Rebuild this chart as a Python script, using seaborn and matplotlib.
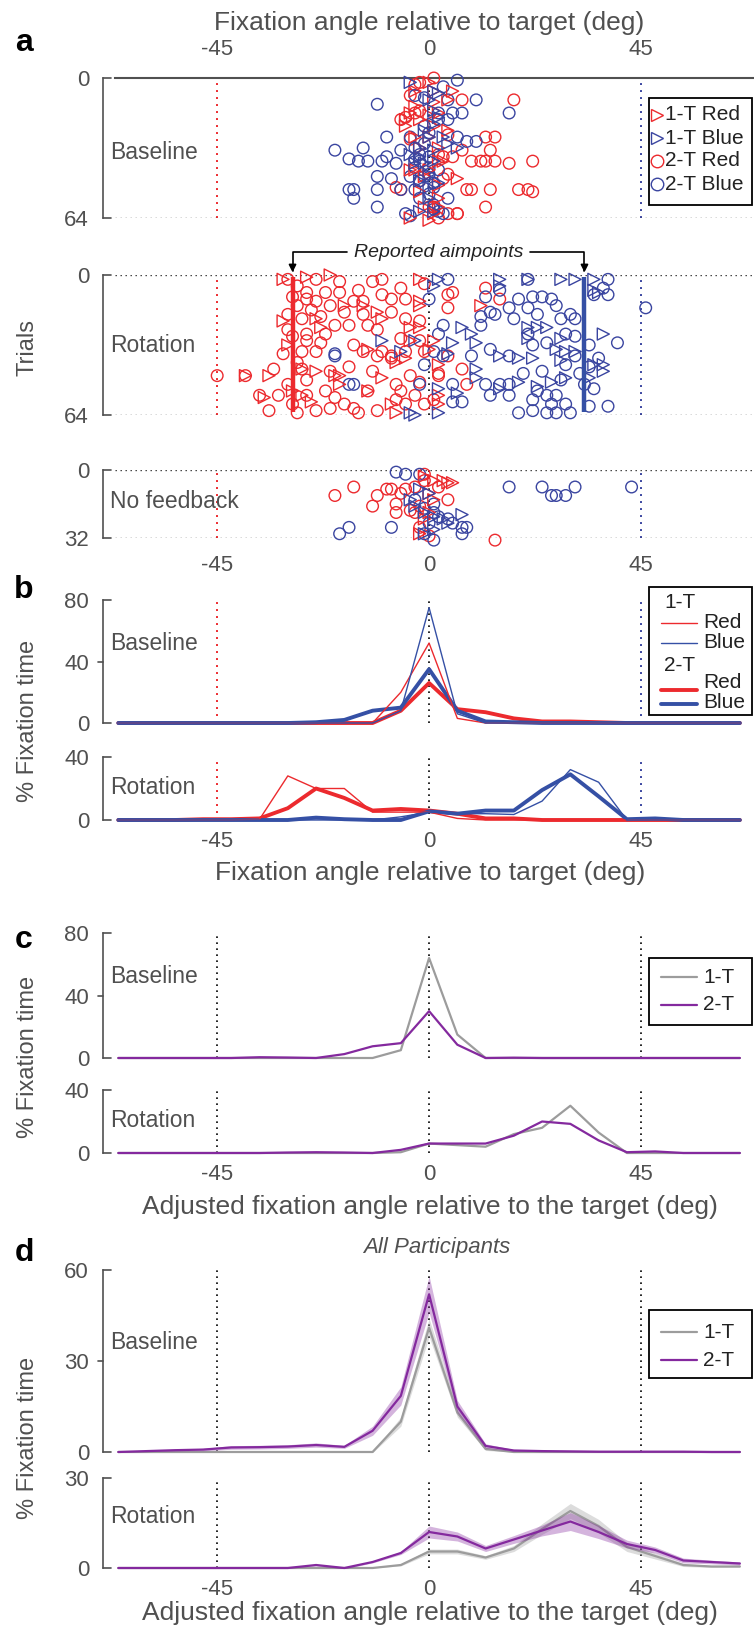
import numpy as np
import pandas as pd
import matplotlib
matplotlib.use("Agg")
import matplotlib.pyplot as plt
import matplotlib.transforms as mtransforms
from matplotlib.lines import Line2D
from matplotlib.patches import Rectangle
import seaborn as sns

# ------------------------------------------------------------------ data
bins = [-66, -60, -54, -48, -42, -36, -30, -24, -18, -12, -6, 0, 6, 12, 18, 24, 30, 36, 42, 48, 54, 60, 66]

# panel b (per colour)
b_base_1t_red = [0, 0, 0, 0, 0, 0, 0, 0, 0, 0, 20, 52, 3, 0, 0, 0, 0, 0, 0, 0, 0, 0, 0]
b_base_1t_blue = [0, 0, 0, 0, 0, 0, 0, 0, 0, 0, 8, 75, 6, 0, 0, 0, 0, 0, 0, 0, 0, 0, 0]
b_base_2t_red = [0, 0, 0, 0, 0, 0, 0, 0, 0, 0, 8, 26, 9, 7, 3, 1, 1, 0.5, 0, 0, 0, 0, 0]
b_base_2t_blue = [0, 0, 0, 0, 0, 0, 0, 0.5, 2, 8, 10, 35, 8, 1, 0.5, 0, 0, 0, 0, 0, 0, 0, 0]
b_rot_1t_red = [0, 0, 0, 0, 0, 0.5, 28, 20, 20, 5, 5, 5, 1, 0, 0, 0, 0, 0, 0, 0, 0, 0, 0]
b_rot_2t_red = [0, 0, 0, 0.5, 0.5, 1, 7.5, 20, 14, 6, 7, 6, 4, 1, 1, 0, 0, 0, 0, 0, 0, 0, 0]
b_rot_1t_blue = [0, 0, 0, 0, 0, 0, 0, 0, 0, 0, 2, 5, 4, 4, 3.5, 12, 32, 24, 0, 0, 0, 0, 0]
b_rot_2t_blue = [0, 0, 0, 0, 0, 0, 0, 1.5, 0.5, 0, 0, 5.5, 4, 6, 6, 19, 29, 15, 0.5, 1, 0, 0, 0]

# panel c (adjusted, one participant)
c_base_1t = [0, 0, 0, 0, 0, 0, 0, 0, 0, 0, 5, 64, 15, 0, 0, 0, 0, 0, 0, 0, 0, 0, 0]
c_base_2t = [0, 0, 0, 0, 0, 0.5, 0.3, 0, 2.5, 7.5, 9.5, 30, 8.5, 0, 0.2, 0, 0, 0, 0, 0, 0, 0, 0]
c_rot_1t = [0, 0, 0, 0, 0, 0, 0, 0, 0, 0, 0.5, 6, 5, 4, 12, 16, 30, 13, 0, 0, 0, 0, 0]
c_rot_2t = [0, 0, 0, 0, 0, 0, 0.3, 0.5, 0.3, 0, 2, 6, 6, 6, 11, 20, 18.5, 8, 0.5, 1, 0, 0, 0]

# panel d (all participants, mean and s.e.m.)
d_base_1t = [0, 0, 0, 0, 0, 0, 0, 0, 0, 0, 10, 41, 13, 1, 0, 0, 0, 0, 0, 0, 0, 0, 0]
d_base_1t_sem = [0, 0, 0, 0, 0, 0, 0, 0, 0, 0.2, 1.5, 3, 1.5, 0.5, 0, 0, 0, 0, 0, 0, 0, 0, 0]
d_base_2t = [0, 0.3, 0.6, 0.8, 1.5, 1.6, 1.8, 2.3, 1.7, 7, 18.5, 52, 15, 2, 0.5, 0.3, 0.2, 0.1, 0.1, 0.1, 0.1, 0, 0]
d_base_2t_sem = [0, 0.2, 0.3, 0.4, 0.6, 0.6, 0.6, 0.7, 0.5, 1.5, 3, 6, 2, 0.7, 0.3, 0.2, 0.1, 0.1, 0.1, 0.1, 0.1, 0, 0]
d_rot_1t = [0, 0, 0, 0, 0, 0, 0, 0, 0, 0, 1, 5.5, 5.5, 3.5, 6.5, 13, 19, 14, 7, 4, 1, 0.5, 0.5]
d_rot_1t_sem = [0, 0, 0, 0, 0, 0, 0, 0, 0, 0, 0.3, 0.8, 0.8, 0.6, 1, 1.8, 2.5, 2.2, 1.5, 1, 0.5, 0.3, 0.3]
d_rot_2t = [0, 0, 0, 0, 0, 0, 0, 1, 0, 2, 5, 12, 10.5, 6.5, 9.5, 12.5, 15.5, 12, 8, 6, 2.5, 2, 1.5]
d_rot_2t_sem = [0, 0, 0, 0, 0, 0, 0, 0.3, 0.3, 0.3, 0.5, 2, 1.5, 1, 1.3, 1.8, 3, 2.2, 1.3, 1, 0.8, 0.6, 0.5]

# panel a: (fixation angle, trial)
base_1t_red = [(-5, 19), (-5, 22), (-4, 16), (-3, 13), (-2, 19), (1, 11), (2, 32), (6, 46), (3, 38), (4, 24),
               (-4, 64), (0, 65), (1, 6), (-3, 6), (0, 2), (2, 49), (0, 42), (-2, 52), (2, 55), (-3, 42),
               (0, 27), (1, 22), (-2, 32), (2, 38), (1, 62), (-1, 59), (-4, 42), (4, 10), (5, 6), (2, 16),
               (-3, 27), (0, 17), (-1, 45), (2, 59)]
base_1t_blue = [(-4, 2), (1, 6), (2, 7), (1, 21), (4, 30), (6, 32), (0, 44), (0, 50), (-2, 36), (-1, 39),
                (1, 33), (-1, 24), (1, 15), (2, 18), (0, 55), (1, 61), (-2, 61), (-3, 39), (-4, 35), (0, 10),
                (0, 27), (-2, 47), (2, 48), (1, 38), (-2, 32), (3, 27)]
base_2t_red = [(1, 0), (-3, 3), (7, 10), (18, 10), (12, 27), (14, 27), (13, 33), (9, 38), (11, 38), (12, 38),
               (14, 38), (17, 39), (22, 38), (5, 36), (3, 36), (8, 51), (9, 51), (13, 51), (19, 51), (21, 51),
               (22, 52), (12, 59), (6, 62), (4, 62), (6, 62), (3, 46), (4, 44), (-6, 51), (-6, 19), (-5, 18),
               (-3, 16), (-2, 15), (-4, 28), (-4, 8), (-2, 2), (1, 59), (2, 64), (-7, 50), (7, 33), (4, 26),
               (2, 35), (0, 59), (-2, 47)]
base_2t_blue = [(-11, 12), (-9, 27), (-20, 33), (-17, 37), (-15, 38), (-14, 32), (-13, 38), (-10, 38), (-11, 45), (-16, 51),
                (-17, 51), (-16, 55), (-11, 51), (-11, 59), (-8, 46), (-6, 51), (-9, 36), (-7, 39), (-6, 33), (-4, 27),
                (-3, 32), (-3, 37), (-3, 41), (-4, 45), (-3, 51), (-5, 62), (-4, 63), (-2, 55), (-1, 45), (0, 41),
                (1, 50), (1, 58), (2, 19), (2, 16), (4, 19), (6, 1), (3, 4), (4, 10), (5, 16), (7, 16),
                (8, 29), (10, 29), (10, 10), (17, 16), (6, 27), (0, 36), (-2, 35), (3, 62), (2, 61), (4, 55),
                (2, 42), (-1, 9), (-3, 8), (-2, 38), (-1, 30), (0, 44), (1, 48), (-2, 47), (0, 53), (1, 60),
                (-1, 22), (0, 25)]

rot_1t_red = [(-31, 2), (-26, 1), (-21, 0), (-18, 14), (-24, 20), (-23, 24), (-31, 21), (-30, 32), (-27, 43), (-24, 44),
              (-19, 46), (-29, 53), (-27, 55), (-25, 58), (-35, 56), (-39, 46), (-34, 46), (-13, 53), (-13, 34), (-8, 59),
              (-7, 63), (-4, 30), (-4, 24), (-2, 2), (-2, 12), (-2, 24), (-20, 46), (-19, 50), (-10, 47), (-7, 40),
              (2, 41), (-5, 38), (-10, 20), (-14, 14), (-11, 17), (11, 14), (-2, 14), (1, 30), (2, 55), (2, 59),
              (0, 34)]
rot_1t_blue = [(15, 2), (15, 5), (21, 2), (28, 2), (31, 2), (35, 2), (35, 7), (36, 8), (21, 24), (21, 29),
               (23, 24), (25, 24), (28, 29), (27, 34), (29, 35), (28, 39), (31, 35), (37, 27), (37, 41), (35, 41),
               (37, 44), (34, 47), (29, 47), (26, 49), (23, 51), (19, 49), (19, 38), (22, 38), (15, 37), (10, 31),
               (9, 27), (7, 24), (5, 31), (4, 36), (10, 43), (10, 47), (15, 52), (6, 54), (2, 63), (2, 2),
               (1, 5), (-10, 30), (-3, 30), (-6, 35), (-4, 63), (-3, 64), (2, 52)]
rot_2t_red = [(-30, 2), (-24, 2), (-19, 3), (-12, 3), (-10, 2), (-15, 7), (-19, 8), (-22, 8), (-26, 11), (-26, 8),
              (-24, 12), (-21, 14), (-18, 17), (-16, 12), (-14, 12), (-10, 9), (-8, 11), (-6, 6), (-5, 11), (-8, 17),
              (-14, 18), (-17, 23), (-20, 23), (-22, 27), (-23, 31), (-26, 30), (-26, 27), (-30, 18), (-31, 36), (-27, 35),
              (-24, 35), (-16, 32), (-14, 35), (-11, 37), (-10, 35), (-8, 38), (-6, 29), (-5, 20), (-13, 23), (-11, 25),
              (-8, 37), (-5, 35), (-2, 30), (-2, 21), (-1, 35), (2, 46), (-2, 49), (-4, 46), (-7, 50), (-12, 44),
              (-17, 42), (-21, 44), (-26, 48), (-27, 43), (-33, 43), (-39, 46), (-45, 46), (-36, 55), (-34, 62), (-32, 55),
              (-29, 59), (-28, 63), (-26, 55), (-24, 62), (-21, 61), (-20, 56), (-18, 59), (-16, 61), (-15, 63), (-11, 62),
              (-6, 53), (-5, 59), (-7, 57), (-3, 55), (-1, 59), (1, 57), (-13, 53), (-22, 53), (12, 6), (15, 11),
              (4, 9), (5, 8), (4, 15), (4, 37), (7, 43), (8, 50), (2, 45), (-1, 4), (-28, 5), (-29, 10),
              (-28, 14), (-30, 25), (-29, 28), (-28, 40), (-30, 50), (-27, 20), (-25, 16), (-23, 19)]
rot_2t_blue = [(4, 2), (12, 10), (13, 17), (11, 19), (14, 18), (18, 20), (17, 15), (21, 2), (22, 10), (24, 10),
               (26, 11), (27, 14), (23, 18), (28, 20), (30, 18), (31, 20), (35, 9), (38, 2), (38, 9), (37, 6),
               (21, 27), (22, 32), (25, 31), (29, 27), (34, 32), (40, 31), (34, 42), (29, 41), (31, 37), (17, 37),
               (13, 34), (9, 37), (5, 50), (12, 50), (15, 50), (17, 50), (13, 55), (17, 55), (5, 58), (7, 58),
               (19, 63), (22, 62), (22, 57), (23, 53), (25, 55), (27, 55), (29, 59), (30, 63), (34, 60), (38, 60),
               (25, 63), (27, 63), (26, 59), (46, 15), (19, 11), (21, 15), (15, 7), (11, 23), (-20, 37), (-20, 36),
               (-17, 50), (-16, 50), (-2, 50), (1, 35), (2, 27), (3, 37), (3, 23), (0, 11), (-1, 41), (32, 45),
               (33, 50), (35, 52), (36, 38), (31, 28), (28, 48), (24, 44), (20, 45)]

nofb_1t_red = [(-1, 3), (1, 5), (3, 5), (4, 6), (5, 6), (0, 11), (1, 14), (-1, 23), (-2, 30), (0, 20)]
nofb_1t_blue = [(-4, 14), (-3, 17), (-1, 20), (1, 22), (3, 23), (4, 25), (7, 21), (1, 28), (-1, 30), (0, 11), (-2, 9)]
nofb_2t_red = [(-20, 12), (-16, 8), (-12, 17), (-11, 12), (-9, 9), (-8, 9), (-6, 11), (-5, 9), (-3, 8), (-1, 2),
               (-1, 5), (-7, 20), (-4, 19), (-2, 27), (0, 31), (2, 8), (4, 14), (14, 33), (-7, 16), (-3, 20),
               (-2, 17)]
nofb_2t_blue = [(-7, 1), (-5, 2), (-2, 2), (17, 8), (24, 8), (26, 12), (27, 12), (29, 12), (31, 8), (43, 8),
                (-19, 30), (-17, 27), (-8, 27), (-1, 18), (1, 20), (2, 22), (4, 23), (5, 25), (7, 27), (8, 27),
                (7, 30), (1, 33), (-1, 30), (0, 25), (1, 16), (-3, 14)]

aim_red = -29
aim_blue = 33
xticks = [-45, 0, 45]

# ------------------------------------------------------------------ style
sns.set_theme(style="white")
plt.rcParams["font.family"] = ["Liberation Sans", "DejaVu Sans"]

W, H = 754, 1636
fig = plt.figure(figsize=(W / 100, H / 100), dpi=100)
TXT = "#505050"
RED = "#ec2a2e"
BLUE = "#3a45a0"
BLUE_L = "#3550a5"
GRAY = "#9c9c9c"
PURPLE = "#84299e"
LEFT, RIGHT = 115, 754
XL = (-66.7, 69.0)
SP_OFF = 12
DOT = (0, (1, 2.6))


def add_ax(top, bottom):
    return fig.add_axes([LEFT / W, 1 - bottom / H, (RIGHT - LEFT) / W, (bottom - top) / H])


def style_y(ax, ticks):
    for s in ["top", "right", "bottom"]:
        ax.spines[s].set_visible(False)
    ax.spines["left"].set_position(("outward", SP_OFF * 0.72))
    ax.spines["left"].set_color(TXT)
    ax.spines["left"].set_linewidth(1.2)
    ax.set_yticks(ticks)
    ax.tick_params(axis="y", length=0, pad=10, labelsize=16, labelcolor=TXT)
    ax.set_xlim(XL)
    ax.set_xticks([])
    tr = mtransforms.blended_transform_factory(ax.transAxes, ax.transData)
    aw = RIGHT - LEFT
    x0 = -SP_OFF / aw
    lo, hi = min(ticks), max(ticks)
    for t in ticks:
        xs = [x0, x0 + 8 / aw] if t in (lo, hi) else [x0 - 5 / aw, x0]
        ax.add_line(Line2D(xs, [t, t], transform=tr, color=TXT, lw=1.2, clip_on=False))
    ax.patch.set_alpha(0)


def bottom_ticks(ax, pad):
    ax.set_xticks(xticks)
    ax.set_xticklabels(["-45", "0", "45"])
    ax.tick_params(axis="x", length=0, pad=pad, labelsize=16, labelcolor=TXT)


def label(ax, text, yfrac):
    tr = mtransforms.blended_transform_factory(ax.transAxes, ax.transAxes)
    ax.text(-5 / (RIGHT - LEFT), yfrac, text, transform=tr, fontsize=16.5, color=TXT, va="center", ha="left")


def fx(x):
    return x / W


def fy(y):
    return 1 - y / H


def scatter(ax, pts, color, marker, size):
    df = pd.DataFrame(pts, columns=["angle", "trial"])
    sns.scatterplot(data=df, x="angle", y="trial", marker=marker, s=size, color=color,
                    linewidth=1.0, ax=ax, legend=False, clip_on=False, zorder=3)
    coll = ax.collections[-1]
    coll.set_facecolor("none")
    coll.set_edgecolor(color)


def line(ax, vals, color, lw, z=3):
    sns.lineplot(x=bins, y=vals, color=color, lw=lw, ax=ax, legend=False, clip_on=False, zorder=z)


def fig_legend(box, entries):
    x0, y0, x1, y1 = box
    fig.add_artist(Rectangle((fx(x0), fy(y1)), (x1 - x0) / W, (y1 - y0) / H, transform=fig.transFigure,
                             fill=True, fc="white", ec="black", lw=1.3, zorder=10))
    for e in entries:
        kind, y = e[0], e[1]
        if kind == "text":
            fig.text(fx(e[2]), fy(y), e[3], fontsize=e[4], color="#222222", va="center", ha="left", zorder=11)
        elif kind == "marker":
            fig.add_artist(Line2D([fx(e[2])], [fy(y)], marker=e[3], ls="none", mfc="none", mec=e[4],
                                  ms=9, mew=1.0, transform=fig.transFigure, zorder=11))
        elif kind == "line":
            fig.add_artist(Line2D([fx(e[2]), fx(e[3])], [fy(y), fy(y)], color=e[4], lw=e[5],
                                  transform=fig.transFigure, zorder=11))


def clear_labels(ax):
    ax.set_xlabel("")
    ax.set_ylabel("")


# ------------------------------------------------------------------ panel a
a_specs = [("Baseline", 78, 218, 64, [base_2t_red, base_2t_blue, base_1t_red, base_1t_blue], 0.47),
           ("Rotation", 275, 415, 64, [rot_2t_red, rot_2t_blue, rot_1t_red, rot_1t_blue], 0.5),
           ("No feedback", 470, 538, 32, [nofb_2t_red, nofb_2t_blue, nofb_1t_red, nofb_1t_blue], 0.53)]
a_axes = []
for i, (name, top, bot, ntr, groups, yl) in enumerate(a_specs):
    ax = add_ax(top, bot)
    ax.axvline(-45, color=RED, ls=DOT, lw=1.4, zorder=1)
    ax.axvline(45, color=BLUE, ls=DOT, lw=1.4, zorder=1)
    ax.axvline(0, color="black", ls=DOT, lw=1.2, zorder=1)
    if i > 0:
        ax.axhline(0, color="#333333", ls=DOT, lw=1.0, zorder=1)
    ax.axhline(ntr, color="#333333", ls=DOT, lw=1.0, zorder=1)
    scatter(ax, groups[0], RED, "o", 70)
    scatter(ax, groups[1], BLUE, "o", 70)
    scatter(ax, groups[2], RED, ">", 75)
    scatter(ax, groups[3], BLUE, ">", 75)
    ax.set_ylim(ntr, 0)
    style_y(ax, [0, ntr])
    if i == 0:
        ax.spines["top"].set_visible(True)
        ax.spines["top"].set_color(TXT)
        ax.spines["top"].set_linewidth(1.5)
        ax.xaxis.tick_top()
        ax.set_xticks(xticks)
        ax.set_xticklabels(["-45", "0", "45"])
        ax.tick_params(axis="x", length=0, pad=13, labelsize=16, labelcolor=TXT)
    clear_labels(ax)
    label(ax, name, yl)
    a_axes.append(ax)

ax_rot = a_axes[1]
ax_rot.plot([aim_red, aim_red], [0.8, 62.5], color=RED, lw=3.2, solid_capstyle="butt", zorder=4)
ax_rot.plot([aim_blue, aim_blue], [0.8, 62.5], color=BLUE_L, lw=3.2, solid_capstyle="butt", zorder=4)
for xs, xa in [(-17.5, aim_red), (21.5, aim_blue)]:
    ax_rot.annotate("", xy=(xa, -1.2), xytext=(xs, -10.5), annotation_clip=False,
                    arrowprops=dict(arrowstyle="-|>", color="black", lw=1.2, shrinkA=0, shrinkB=0,
                                    mutation_scale=11,
                                    connectionstyle="angle,angleA=0,angleB=90,rad=0"))
ax_rot.text(2, -10.5, "Reported aimpoints", ha="center", va="center", fontsize=14, style="italic",
            color="#222222", clip_on=False)
bottom_ticks(a_axes[2], 12)

fig.text(fx(429), fy(23), "Fixation angle relative to target (deg)", ha="center", va="center",
         fontsize=19, color=TXT)
fig.text(fx(28), fy(347), "Trials", rotation=90, ha="center", va="center", fontsize=17, color=TXT)

fig_legend((649, 98, 752, 205), [
    ("marker", 115, 657, ">", RED), ("text", 115, 665, "1-T Red", 15),
    ("marker", 138, 657, ">", BLUE), ("text", 138, 665, "1-T Blue", 15),
    ("marker", 161, 657, "o", RED), ("text", 161, 665, "2-T Red", 15),
    ("marker", 184, 657, "o", BLUE), ("text", 184, 665, "2-T Blue", 15),
])

# ------------------------------------------------------------------ panel b
axb1 = add_ax(600, 723)
axb2 = add_ax(757, 820)
for ax in (axb1, axb2):
    ax.axvline(-45, color=RED, ls=DOT, lw=1.4, zorder=1)
    ax.axvline(45, color=BLUE, ls=DOT, lw=1.4, zorder=1)
    ax.axvline(0, color="black", ls=DOT, lw=1.2, zorder=1)
line(axb1, b_base_1t_red, RED, 1.0, 4)
line(axb1, b_base_1t_blue, BLUE_L, 1.0, 4)
line(axb1, b_base_2t_red, RED, 2.8)
line(axb1, b_base_2t_blue, BLUE_L, 2.8)
line(axb2, b_rot_1t_red, RED, 1.0, 4)
line(axb2, b_rot_1t_blue, BLUE_L, 1.0, 4)
line(axb2, b_rot_2t_red, RED, 2.8)
line(axb2, b_rot_2t_blue, BLUE_L, 2.8)
axb1.set_ylim(0, 80)
style_y(axb1, [0, 40, 80])
axb2.set_ylim(0, 40)
style_y(axb2, [0, 40])
label(axb1, "Baseline", 0.65)
label(axb2, "Rotation", 0.52)
bottom_ticks(axb2, 8)
fig.text(fx(430), fy(873), "Fixation angle relative to target (deg)", ha="center", va="center",
         fontsize=19, color=TXT)
fig.text(fx(28), fy(721), "% Fixation time", rotation=90, ha="center", va="center", fontsize=17, color=TXT)
fig_legend((649, 587, 752, 715), [
    ("text", 603, 664, "1-T", 15),
    ("line", 623, 661, 697, RED, 1.0), ("text", 623, 703, "Red", 15),
    ("line", 643, 661, 697, BLUE_L, 1.0), ("text", 643, 703, "Blue", 15),
    ("text", 665, 664, "2-T", 15),
    ("line", 690, 661, 697, RED, 2.8), ("text", 683, 703, "Red", 15),
    ("line", 704, 661, 697, BLUE_L, 2.8), ("text", 702, 703, "Blue", 15),
])

# ------------------------------------------------------------------ panel c
axc1 = add_ax(933, 1058)
axc2 = add_ax(1090, 1153)
for ax in (axc1, axc2):
    for v in xticks:
        ax.axvline(v, color="black", ls=DOT, lw=1.2, zorder=1)
line(axc1, c_base_1t, GRAY, 1.6)
line(axc1, c_base_2t, PURPLE, 1.6, 4)
line(axc2, c_rot_1t, GRAY, 1.6)
line(axc2, c_rot_2t, PURPLE, 1.6, 4)
axc1.set_ylim(0, 80)
style_y(axc1, [0, 40, 80])
axc2.set_ylim(0, 40)
style_y(axc2, [0, 40])
label(axc1, "Baseline", 0.65)
label(axc2, "Rotation", 0.52)
bottom_ticks(axc2, 8)
fig.text(fx(430), fy(1207), "Adjusted fixation angle relative to the target (deg)", ha="center",
         va="center", fontsize=19, color=TXT)
fig.text(fx(28), fy(1057), "% Fixation time", rotation=90, ha="center", va="center", fontsize=17, color=TXT)
fig_legend((649, 958, 752, 1025), [
    ("line", 977, 661, 697, GRAY, 1.6), ("text", 977, 703, "1-T", 15),
    ("line", 1005, 661, 697, PURPLE, 1.6), ("text", 1005, 703, "2-T", 15),
])

# ------------------------------------------------------------------ panel d
axd1 = add_ax(1270, 1452)
axd2 = add_ax(1478, 1568)
for ax in (axd1, axd2):
    for v in xticks:
        ax.axvline(v, color="black", ls=DOT, lw=1.2, zorder=1)
for ax, m, s, col, z in [(axd1, d_base_1t, d_base_1t_sem, GRAY, 3), (axd1, d_base_2t, d_base_2t_sem, PURPLE, 4),
                         (axd2, d_rot_1t, d_rot_1t_sem, GRAY, 3), (axd2, d_rot_2t, d_rot_2t_sem, PURPLE, 4)]:
    m = np.array(m)
    s = np.array(s)
    ax.fill_between(bins, m - s, m + s, color=col, alpha=0.35, lw=0, zorder=z - 1)
    line(ax, m, col, 1.6, z)
axd1.set_ylim(0, 60)
style_y(axd1, [0, 30, 60])
axd2.set_ylim(0, 30)
style_y(axd2, [0, 30])
label(axd1, "Baseline", 0.6)
label(axd2, "Rotation", 0.57)
bottom_ticks(axd2, 8)
fig.text(fx(430), fy(1613), "Adjusted fixation angle relative to the target (deg)", ha="center",
         va="center", fontsize=19, color=TXT)
fig.text(fx(28), fy(1438), "% Fixation time", rotation=90, ha="center", va="center", fontsize=17, color=TXT)
fig.text(fx(437), fy(1247), "All Participants", ha="center", va="center", fontsize=16, style="italic",
         color=TXT)
fig_legend((649, 1310, 752, 1378), [
    ("line", 1332, 661, 697, GRAY, 1.6), ("text", 1332, 703, "1-T", 15),
    ("line", 1360, 661, 697, PURPLE, 1.6), ("text", 1360, 703, "2-T", 15),
])

for ax in (axb1, axb2, axc1, axc2, axd1, axd2):
    clear_labels(ax)

# panel letters
for letter, y in [("a", 43), ("b", 590), ("c", 940), ("d", 1253)]:
    fig.text(fx(24), fy(y), letter, fontsize=23, fontweight="bold", color="black", ha="center", va="center")

fig.savefig("out.png", dpi=100)
